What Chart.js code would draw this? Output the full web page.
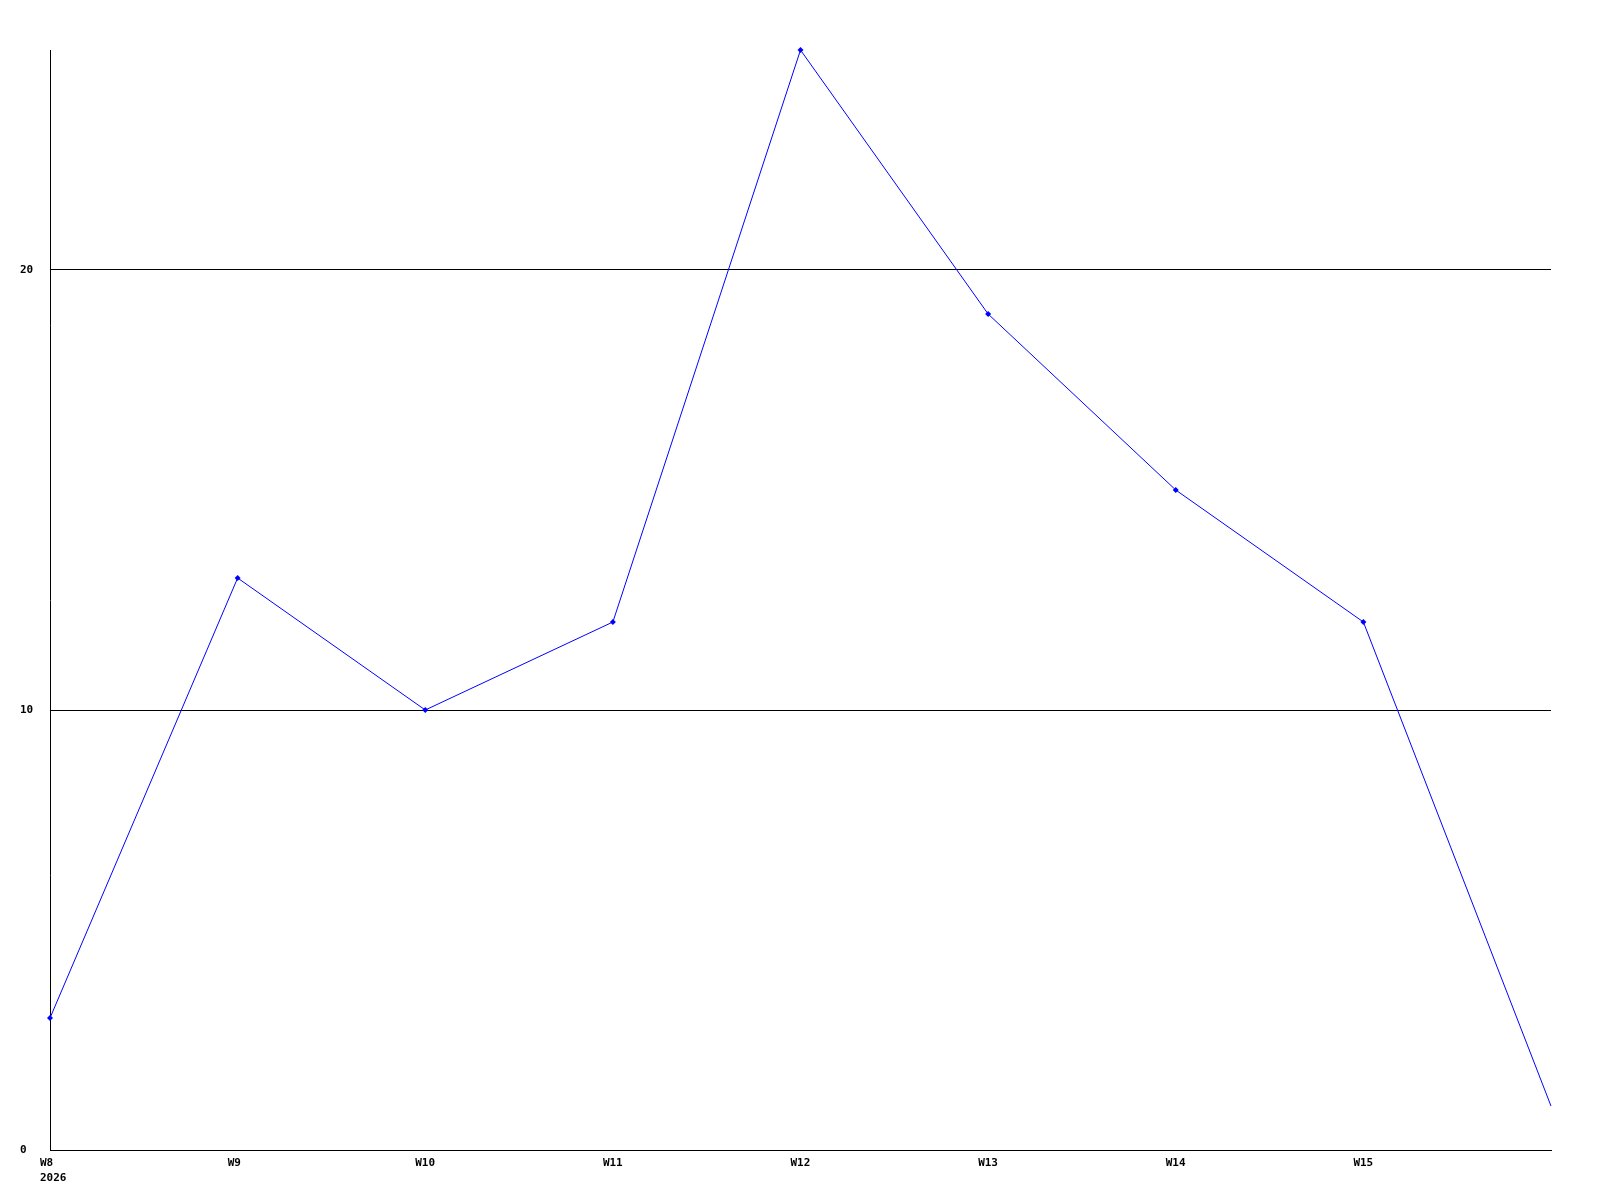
<!DOCTYPE html>
<html>
<head>
<meta charset="utf-8">
<script src="https://cdn.jsdelivr.net/npm/chart.js@4/dist/chart.umd.min.js"></script>
<style>
  html, body { margin: 0; padding: 0; background: #fff; }
  canvas { display: block; }
</style>
</head>
<body>
<canvas id="chart" width="1600" height="1200"></canvas>
<script>
// week labels on the x axis, one tick per week
var weeks = ['W8', 'W9', 'W10', 'W11', 'W12', 'W13', 'W14', 'W15'];
var yearLabel = '2026';
// one value per week, the last one is the week after W15 (no label)
var values = [3, 13, 10, 12, 25, 19, 15, 12, 1];
var yTicks = [0, 10, 20];

var points = [];
for (var i = 0; i < values.length; i++) {
    points.push({ x: i, y: values[i] });
}

var tickFont = { family: 'DejaVu Sans Mono', size: 11, weight: 'bold', lineHeight: '15px' };

new Chart(document.getElementById('chart'), {
    type: 'line',
    data: {
        datasets: [{
            data: points,
            borderColor: '#0000ff',
            backgroundColor: '#0000ff',
            borderWidth: 1,
            pointStyle: 'rectRot',
            pointRadius: values.map(function (v, i) { return i < weeks.length ? 3 : 0; }),
            pointBorderWidth: 0,
            tension: 0,
            fill: false,
            clip: false
        }]
    },
    options: {
        responsive: false,
        animation: false,
        devicePixelRatio: 1,
        layout: { padding: { left: 20, top: 50, right: 49, bottom: 0 } },
        plugins: {
            legend: { display: false },
            tooltip: { enabled: false }
        },
        scales: {
            x: {
                type: 'linear',
                min: 0,
                max: values.length - 1,
                afterBuildTicks: function (axis) {
                    axis.ticks = weeks.map(function (w, i) { return { value: i }; });
                },
                afterFit: function (axis) { axis.height = 50; },
                grid: { display: false, drawTicks: false },
                border: { display: true, color: '#000', width: 1 },
                ticks: {
                    autoSkip: false,
                    maxRotation: 0,
                    align: 'start',
                    labelOffset: -10,
                    padding: 6,
                    color: '#000',
                    font: tickFont,
                    callback: function (value, index) {
                        var w = weeks[value];
                        if (value === 0) return [w, yearLabel];
                        return w;
                    }
                }
            },
            y: {
                min: 0,
                max: 25,
                afterBuildTicks: function (axis) {
                    axis.ticks = yTicks.map(function (v) { return { value: v }; });
                },
                afterFit: function (axis) { axis.width = 30; },
                grid: { color: '#000', lineWidth: 1, drawTicks: false },
                border: { display: true, color: '#000', width: 1 },
                ticks: {
                    crossAlign: 'far',
                    padding: 0,
                    color: '#000',
                    font: tickFont
                }
            }
        }
    }
});
</script>
</body>
</html>
